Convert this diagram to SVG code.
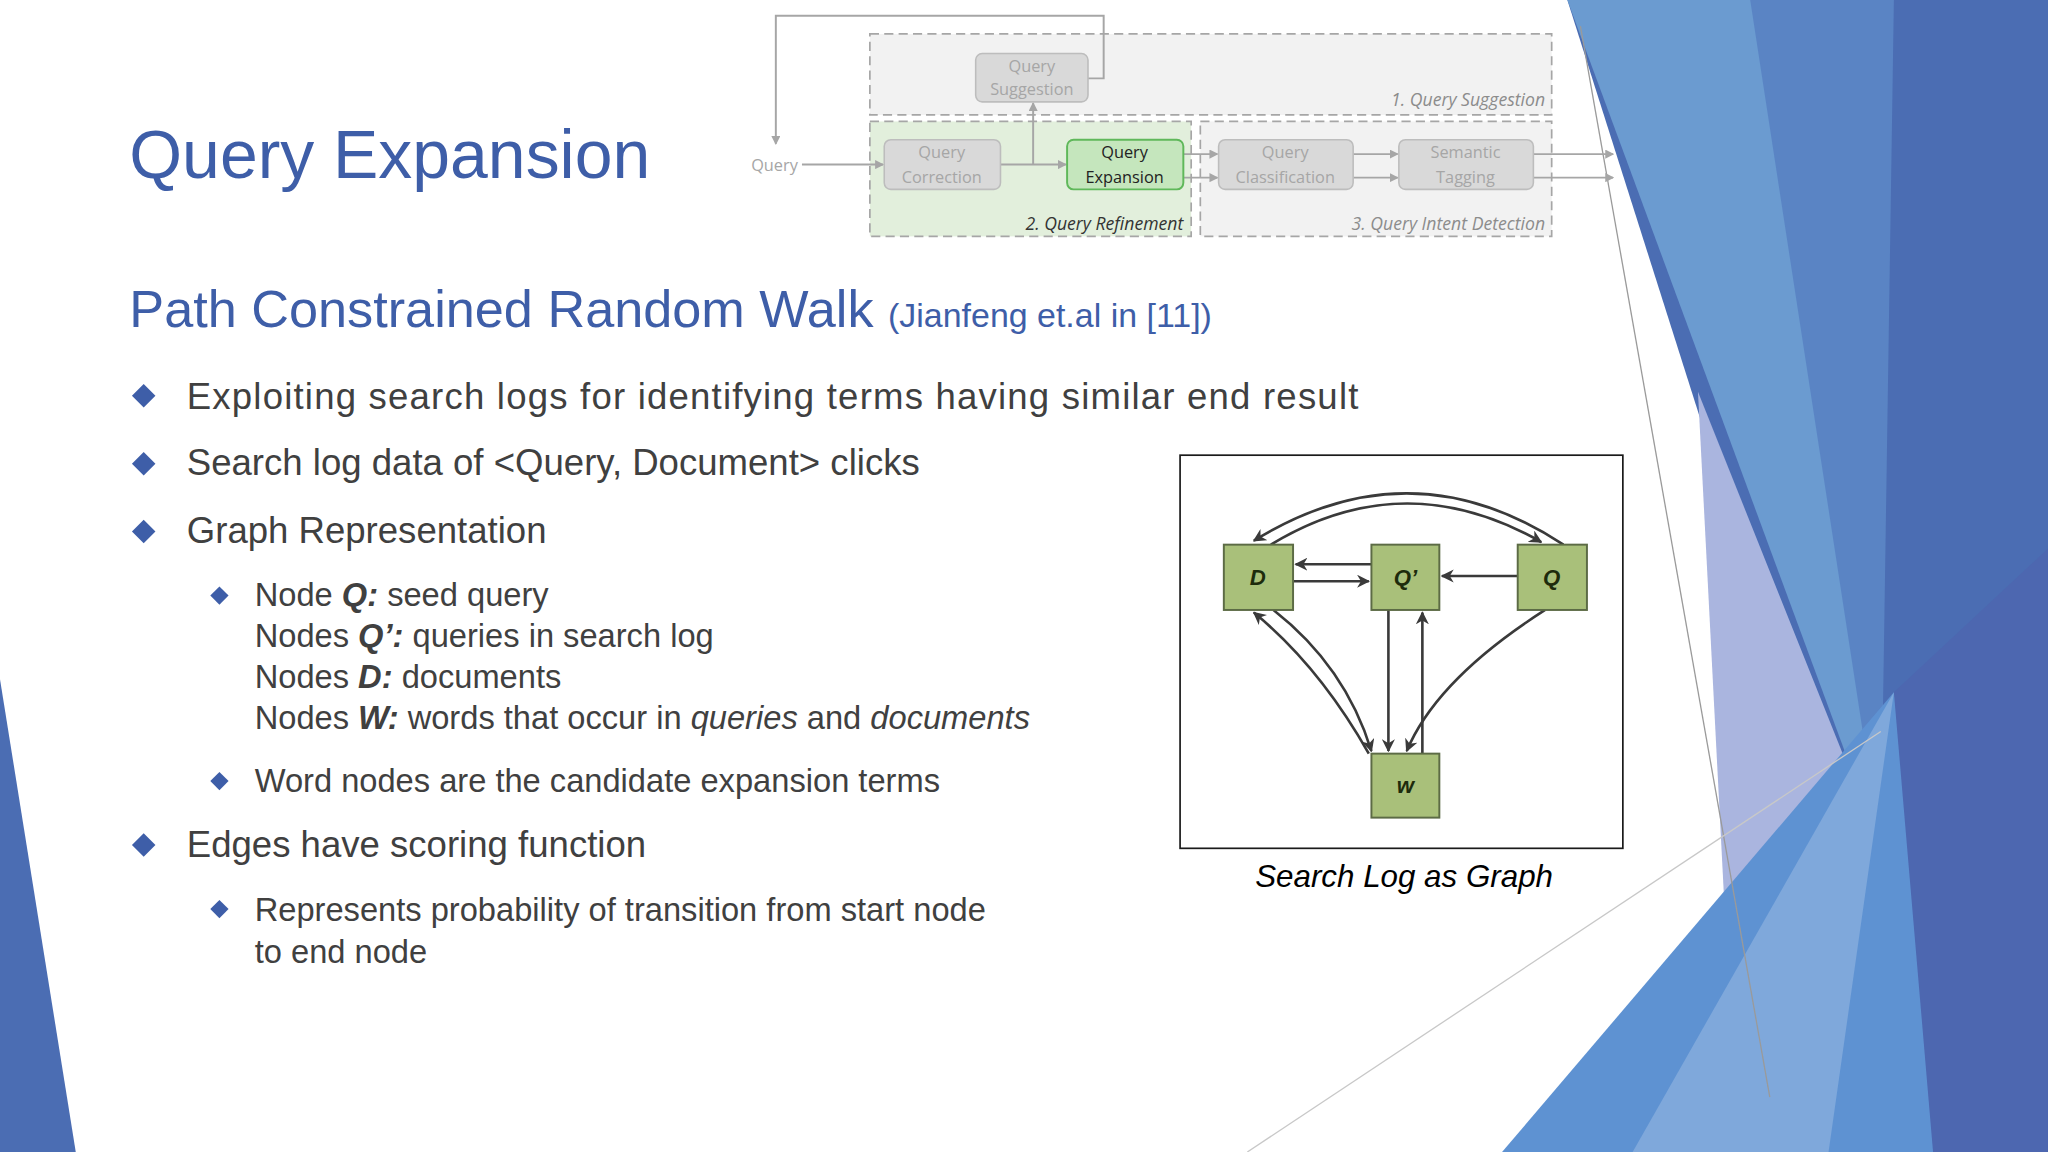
<svg xmlns="http://www.w3.org/2000/svg" width="2048" height="1152" viewBox="0 0 2048 1152">
<defs>
<style>
.t{font-family:"Liberation Sans",Arial,sans-serif;fill:#404040}
.pb{fill:#d9d9d9;stroke:#bdbdbd;stroke-width:1.2}
.pt{font-family:"Open Sans","Liberation Sans",sans-serif;font-size:12.5px;fill:#a6a6a6;text-anchor:middle}
.pl{stroke:#a6a6a6;stroke-width:1.5;fill:none}
.dash{stroke:#a6a6a6;stroke-width:1.3;stroke-dasharray:7 4}
.gl{font-family:"Open Sans","Liberation Sans",sans-serif;font-size:13.5px;font-style:italic;fill:#8c8c8c;text-anchor:end}
.gn{fill:#a9c07a;stroke:#5c6b45;stroke-width:1.5}
.gt{font-family:"Liberation Sans",Arial,sans-serif;font-size:17px;font-weight:bold;font-style:italic;fill:#1d2b0c;text-anchor:middle}
.ge{stroke:#3a3a3a;stroke-width:2;fill:none}
</style>
<marker id="ah" markerWidth="10" markerHeight="10" refX="9" refY="5" orient="auto" markerUnits="userSpaceOnUse"><path d="M0,0 L10,5 L0,10 L3,5 z" fill="#3a3a3a"/></marker>
<marker id="ag" markerWidth="7" markerHeight="7" refX="6" refY="3.5" orient="auto" markerUnits="userSpaceOnUse"><path d="M0,0 L7,3.5 L0,7 z" fill="#a6a6a6"/></marker>
</defs>
<rect width="2048" height="1152" fill="#ffffff"/>
<g transform="scale(1.30612)">
<g id="background">
<polygon points="1200,0 1568,0 1568,882 1480,882" fill="#4b6db3"/>
<polygon points="1200,0 1400,0 1440,650" fill="#6b9bd0"/>
<polygon points="1340,0 1450,0 1440,650" fill="#5a84c4"/>
<polygon points="1300,300 1440,650 1360,882 1330,882" fill="#aab5df"/>
<polygon points="1150,882 1450,530 1530,882" fill="#5e92d2"/>
<polygon points="1250,882 1450,530 1400,882" fill="#7fa8db"/>
<polygon points="1450,530 1568,420 1568,882 1480,882" fill="#4d67b0"/>
<polygon points="0,520 0,882 58,882" fill="#4b6db3"/>
<line x1="1210" y1="20" x2="1355" y2="840" stroke="#9a9a9a" stroke-width="1"/>
<line x1="955" y1="882" x2="1440" y2="560" stroke="#c8c8c8" stroke-width="1"/>
</g>
<g id="title">
<text class="t" x="99" y="136" font-size="52" style="fill:#3e5ea8" font-family="Liberation Sans">Query Expansion</text>
<text class="t" x="99" y="250" font-size="40" style="fill:#3e5ea8">Path Constrained Random Walk <tspan font-size="26">(Jianfeng et.al in [11])</tspan></text>
</g>
<g id="bullets">
<g fill="#3e5ea8">
<path d="M110,294 l9,9 l-9,9 l-9,-9z"/><path d="M110,346 l9,9 l-9,9 l-9,-9z"/><path d="M110,398 l9,9 l-9,9 l-9,-9z"/><path d="M110,638 l9,9 l-9,9 l-9,-9z"/>
<path d="M168,449 l7,7 l-7,7 l-7,-7z"/><path d="M168,591 l7,7 l-7,7 l-7,-7z"/><path d="M168,689 l7,7 l-7,7 l-7,-7z"/>
</g>
<text class="t" x="143" y="313" font-size="28" textLength="897">Exploiting search logs for identifying terms having similar end result</text>
<text class="t" x="143" y="364" font-size="28">Search log data of &lt;Query, Document&gt; clicks</text>
<text class="t" x="143" y="416" font-size="28">Graph Representation</text>
<text class="t" x="195" y="464" font-size="25">Node  <tspan font-weight="bold" font-style="italic">Q:</tspan> seed query</text>
<text class="t" x="195" y="495" font-size="25">Nodes <tspan font-weight="bold" font-style="italic">Q’:</tspan> queries in search log</text>
<text class="t" x="195" y="527" font-size="25">Nodes <tspan font-weight="bold" font-style="italic">D:</tspan> documents</text>
<text class="t" x="195" y="558" font-size="25">Nodes <tspan font-weight="bold" font-style="italic">W:</tspan> words that occur in <tspan font-style="italic">queries</tspan> and <tspan font-style="italic">documents</tspan></text>
<text class="t" x="195" y="606" font-size="25">Word nodes are the candidate expansion terms</text>
<text class="t" x="143" y="656" font-size="28">Edges have scoring function</text>
<text class="t" x="195" y="705" font-size="25">Represents probability of transition from start node</text>
<text class="t" x="195" y="737" font-size="25">to end node</text>
</g>
<g id="pipeline">
<rect x="666" y="26" width="522" height="62" fill="#f2f2f2" class="dash"/>
<rect x="666" y="93" width="246" height="88" fill="#e2efdc" class="dash"/>
<rect x="919" y="93" width="269" height="88" fill="#f2f2f2" class="dash"/>
<text class="gl" x="1183" y="81">1. Query Suggestion</text>
<text class="gl" x="906" y="176" style="fill:#333">2. Query Refinement</text>
<text class="gl" x="1183" y="176">3. Query Intent Detection</text>
<g class="pl">
<path d="M833,60 H845 V12 H594 V110" marker-end="url(#ag)"/>
<path d="M614,126 H676" marker-end="url(#ag)"/>
<path d="M766,126 H816" marker-end="url(#ag)"/>
<path d="M791,126 V79" marker-end="url(#ag)"/>
<path d="M906,118 H932" marker-end="url(#ag)"/><path d="M906,136 H932" marker-end="url(#ag)"/>
<path d="M1036,118 H1070" marker-end="url(#ag)"/><path d="M1036,136 H1070" marker-end="url(#ag)"/>
<path d="M1174,118 H1235" marker-end="url(#ag)"/><path d="M1174,136 H1235" marker-end="url(#ag)"/>
</g>
<text class="pt" x="593" y="131">Query</text>
<g id="qs"><rect class="pb" x="747" y="41" width="86" height="37" rx="5"/><text class="pt" x="790" y="55">Query</text><text class="pt" x="790" y="73">Suggestion</text></g>
<g id="qc"><rect class="pb" x="677" y="107" width="89" height="38" rx="5"/><text class="pt" x="721" y="121">Query</text><text class="pt" x="721" y="140">Correction</text></g>
<g id="qe"><rect x="817" y="107" width="89" height="38" rx="5" fill="#c5e6bd" stroke="#5fb85a" stroke-width="1.5"/><text class="pt" x="861" y="121" style="fill:#222">Query</text><text class="pt" x="861" y="140" style="fill:#222">Expansion</text></g>
<g id="qcl"><rect class="pb" x="933" y="107" width="103" height="38" rx="5"/><text class="pt" x="984" y="121">Query</text><text class="pt" x="984" y="140">Classification</text></g>
<g id="st"><rect class="pb" x="1071" y="107" width="103" height="38" rx="5"/><text class="pt" x="1122" y="121">Semantic</text><text class="pt" x="1122" y="140">Tagging</text></g>
</g>
<rect x="903.5" y="348.5" width="339" height="301" fill="#ffffff" stroke="#1a1a1a" stroke-width="1.3"/>
<g id="connectors">
<path class="ge" d="M1050,432 H992" marker-end="url(#ah)"/>
<path class="ge" d="M990,445 H1048" marker-end="url(#ah)"/>
<path class="ge" d="M1162,441 H1104" marker-end="url(#ah)"/>
<path class="ge" d="M1063,467 V575" marker-end="url(#ah)"/>
<path class="ge" d="M1089,577 V469" marker-end="url(#ah)"/>
<path class="ge" d="M1183,467 Q1100,520 1077,575" marker-end="url(#ah)"/>
<path class="ge" d="M1048,577 Q1010,510 960,469" marker-end="url(#ah)"/>
<path class="ge" d="M975,467 Q1030,510 1050,575" marker-end="url(#ah)"/>
<path class="ge" d="M1197,417 Q1080,340 960,414" marker-end="url(#ah)"/>
<path class="ge" d="M973,417 Q1075,355 1180,415" marker-end="url(#ah)"/>
</g>
<g id="node-D"><rect class="gn" x="937" y="417" width="53" height="50"/><text class="gt" x="963" y="448">D</text></g>
<g id="node-Qp"><rect class="gn" x="1050" y="417" width="52" height="50"/><text class="gt" x="1076" y="448">Q’</text></g>
<g id="node-Q"><rect class="gn" x="1162" y="417" width="53" height="50"/><text class="gt" x="1188" y="448">Q</text></g>
<g id="node-W"><rect class="gn" x="1050" y="577" width="52" height="49"/><text class="gt" x="1076" y="607" style="text-transform:lowercase">w</text></g>
<text class="t" x="1075" y="679" font-size="24" font-style="italic" text-anchor="middle" style="fill:#000">Search Log as Graph</text>
</g>
</svg>
